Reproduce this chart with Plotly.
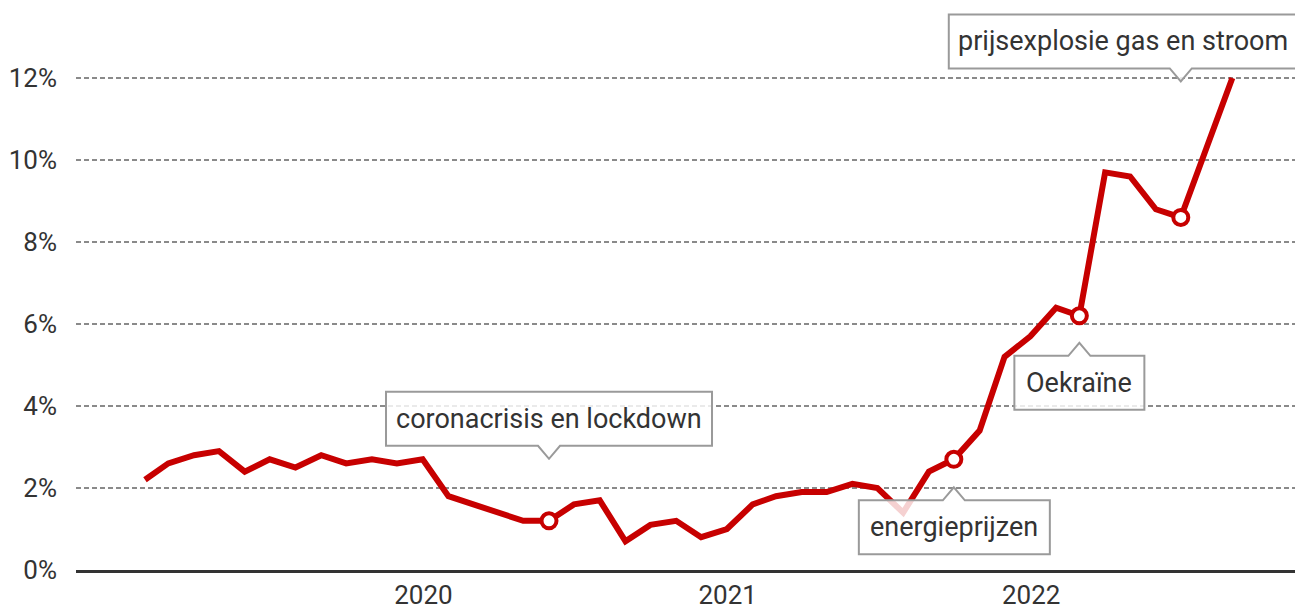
import pandas as pd
import plotly.graph_objects as go

# ---- data (CPI, year-on-year change, %) ----
months = pd.date_range("2019-01-31", "2022-08-31", freq="ME")
cpi = [2.2, 2.6, 2.8, 2.9, 2.4, 2.7, 2.5, 2.8, 2.6, 2.7, 2.6, 2.7,
       1.8, 1.6, 1.4, 1.2, 1.2, 1.6, 1.7, 0.7, 1.1, 1.2, 0.8, 1.0,
       1.6, 1.8, 1.9, 1.9, 2.1, 2.0, 1.4, 2.4, 2.7, 3.4, 5.2, 5.7,
       6.4, 6.2, 9.7, 9.6, 8.8, 8.6, 10.3, 12.0]

event_months = ["2020-05", "2021-09", "2022-02", "2022-06"]
event_labels = ["coronacrisis en lockdown", "energieprijzen", "Oekraïne",
                "prijsexplosie gas en stroom"]

y_ticks = [0, 2, 4, 6, 8, 10, 12]
y_ticktext = ["0%", "2%", "4%", "6%", "8%", "10%", "12%"]
x_ticks = ["2020-01-01", "2021-01-01", "2022-01-01"]
x_ticktext = ["2020", "2021", "2022"]

# ---- callout styling (pixel offsets relative to the event point) ----
# (tip_dy, box_left, box_right)   tip_dy > 0: box above the point
callout_style = [
    (62, -163, 163),
    (-28, -95, 96),
    (-27, -65, 65),
    (136, -232, 116),
]
BOX_H = 54
NOTCH_H = 13
NOTCH_W = 11

RED = "#c70000"
TXT = "#333333"
FONT = "Roboto"

series = pd.Series(cpi, index=months)
ev_dates = [series[m].index[0] for m in event_months]
ev_vals = [float(series[m].iloc[0]) for m in event_months]

fig = go.Figure()
fig.add_trace(go.Scatter(
    x=months, y=cpi, mode="lines",
    line=dict(color=RED, width=6), hoverinfo="skip", showlegend=False))
fig.add_trace(go.Scatter(
    x=ev_dates, y=ev_vals, mode="markers",
    marker=dict(symbol="circle", size=15, color="white",
                line=dict(color=RED, width=4)),
    hoverinfo="skip", showlegend=False))

for d, v, txt, (tip, bl, br) in zip(ev_dates, ev_vals, event_labels, callout_style):
    if tip > 0:
        bb = tip + NOTCH_H          # box bottom
        bt = bb + BOX_H             # box top
        path = (f"M {bl},{bb} L {-NOTCH_W},{bb} L 0,{tip} L {NOTCH_W},{bb} "
                f"L {br},{bb} L {br},{bt} L {bl},{bt} Z")
    else:
        bt = tip - NOTCH_H          # box top
        bb = bt - BOX_H             # box bottom
        path = (f"M {bl},{bt} L {-NOTCH_W},{bt} L 0,{tip} L {NOTCH_W},{bt} "
                f"L {br},{bt} L {br},{bb} L {bl},{bb} Z")
    cy = (bb + bt) / 2
    ds = d.strftime("%Y-%m-%d")
    fig.add_shape(type="path", xref="x", yref="y",
                  xsizemode="pixel", ysizemode="pixel",
                  xanchor=ds, yanchor=v, path=path,
                  fillcolor="rgba(255,255,255,0.82)",
                  line=dict(color="#9a9a9a", width=2), layer="above")
    fig.add_annotation(x=ds, y=v, xref="x", yref="y", text=txt,
                       showarrow=False, xshift=(bl + br) / 2, yshift=cy,
                       font=dict(family=FONT, size=27, color=TXT),
                       xanchor="center", yanchor="middle")

# the page body has an 8px margin: the figure is offset by (8, 8)
fig.update_layout(
    template="none",
    width=1295, height=600,
    margin=dict(l=68, r=5, t=2, b=38),
    paper_bgcolor="white", plot_bgcolor="white",
    font=dict(family=FONT, size=26, color=TXT),
    showlegend=False, hovermode=False,
    xaxis=dict(
        type="date", range=["2018-11-09", "2022-11-18"],
        tickvals=x_ticks, ticktext=x_ticktext,
        showgrid=False, zeroline=False,
        showline=True, linecolor="#333333", linewidth=3,
        ticks="", ticklabelstandoff=0, automargin=False,
        tickfont=dict(family=FONT, size=26, color=TXT),
    ),
    yaxis=dict(
        range=[0, 13.66], tickvals=y_ticks, ticktext=y_ticktext,
        showgrid=True, gridcolor="#8a8a8a", gridwidth=2, griddash="5px,3px",
        zeroline=False, showline=False, ticks="", ticklabelstandoff=18,
        automargin=False,
        tickfont=dict(family=FONT, size=26, color=TXT),
    ),
)

fig.write_html("out.html")
